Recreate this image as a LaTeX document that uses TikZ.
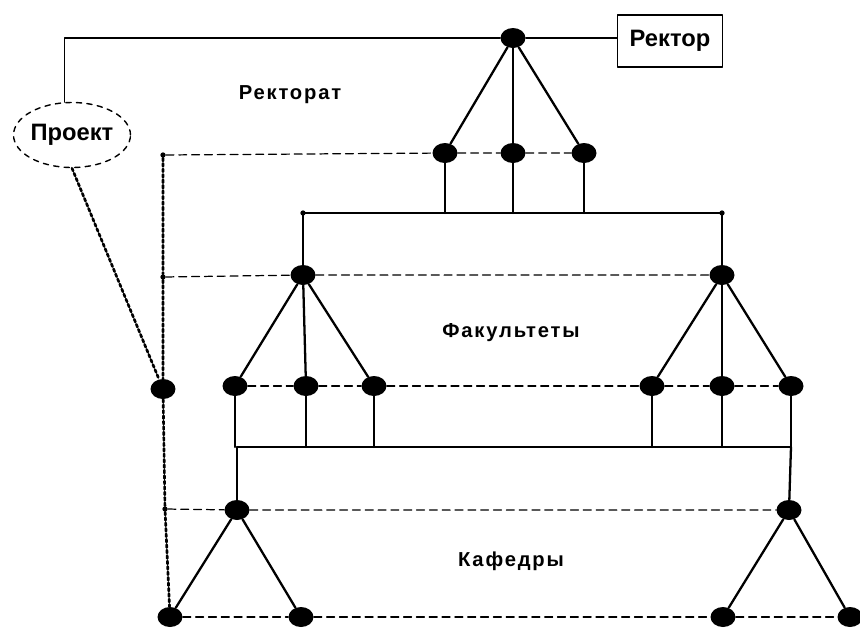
\documentclass[tikz,border=0pt]{standalone}
\usepackage{fontspec}
\newfontfamily\lblfont[LetterSpace=9]{Liberation Sans}
\newfontfamily\boxfont{Liberation Sans}
\usetikzlibrary{shapes.geometric}
\begin{document}
\begin{tikzpicture}[x=0.02cm, y=-0.02cm, line join=round, line cap=round,
    font=\lblfont\bfseries\fontsize{11.5}{13}\selectfont,
    dot/.style={ellipse, fill, inner sep=0pt, minimum width=0.5cm, minimum height=0.4cm},
    pin/.style={circle, fill, inner sep=0pt, minimum size=3pt},
    tree/.style={line width=1.3pt},
    bar/.style={line width=0.8pt},
    hline/.style={line width=0.7pt, dash pattern=on 4.5pt off 2.8pt},
    vline/.style={line width=1.5pt, dash pattern=on 1.7pt off 1.4pt}]
    \useasboundingbox (0,0) rectangle (860,627);
    % Ректорат
    \node[dot] (t) at (513,38) {};
    \node[draw, line width=0.9pt, minimum width=2.1cm, minimum height=1.04cm,
        font=\boxfont\bfseries\fontsize{13.5}{15}\selectfont] (rk) at (670,41) {Ректор};
    \node[ellipse, draw, dashed, line width=0.8pt, inner sep=0pt, minimum width=2.3cm, minimum height=1.3cm,
        font=\boxfont\bfseries\fontsize{13.5}{15}\selectfont] (pr) at (72,135) {Проект};
    \draw[bar] (pr.103) |- (t);
    \draw[bar] (t) -- (t -| rk.west);
    \node (lr) at (290,95) {Ректорат};
    \foreach \x/\n in {445/r1, 513/r2, 584/r3} {
        \node[dot] (\n) at (\x,153) {};
        \draw[tree] (t) -- (\n);
    }
    % Факультеты
    \coordinate (fb1) at (303,213);
    \coordinate (fb2) at (722,213);
    \node[pin] at (fb1) {};
    \node[pin] at (fb2) {};
    \draw[bar] (fb1) -- (fb2);
    \foreach \n in {r1,r2,r3}
        \draw[tree] (\n) -- (\n |- fb1);
    \node[dot] (f1) at (303,275) {};
    \node[dot] (f2) at (722,275) {};
    \draw[tree] (fb1) -- (f1);
    \draw[tree] (fb2) -- (f2);
    \node (lf) at (511,333) {Факультеты};
    \foreach \x/\n in {235/a1, 306/a2, 374/a3} {
        \node[dot] (\n) at (\x,386) {};
        \draw[tree] (f1) -- (\n);
    }
    \foreach \x/\n in {652/b1, 722/b2, 791/b3} {
        \node[dot] (\n) at (\x,386) {};
        \draw[tree] (f2) -- (\n);
    }
    % Кафедры
    \coordinate (kb1) at (237,447);
    \coordinate (kb2) at (791,447);
    \draw[bar] (kb1) -- (kb2);
    \foreach \n in {a1,a2,a3,b1,b2,b3}
        \draw[tree] (\n) -- (\n |- kb1);
    \node[dot] (k1) at (237,510) {};
    \node[dot] (k2) at (789,510) {};
    \draw[tree] (kb1) -- (k1);
    \draw[tree] (kb2) -- (k2);
    \node (lk) at (511,561) {Кафедры};
    \foreach \x/\n in {170/d1, 301/d2, 723/d3, 850/d4}
        \node[dot] (\n) at (\x,617) {};
    \draw[tree] (k1) -- (d1);
    \draw[tree] (k1) -- (d2);
    \draw[tree] (k2) -- (d3);
    \draw[tree] (k2) -- (d4);
    % уровни
    \node[pin] (p1) at (163,155) {};
    \node[pin] (p2) at (163,277) {};
    \node[dot] (pn) at (163,389) {};
    \node[pin] (p3) at (165,509) {};
    \draw[hline] (p1) -- (r1) -- (r2) -- (r3);
    \draw[hline] (p2) -- (f1) -- (f2);
    \draw[hline] (a1) -- (a2) -- (a3) -- (b1) -- (b2) -- (b3);
    \draw[hline] (p3) -- (k1) -- (k2);
    \draw[hline] (d1) -- (d2) -- (d3) -- (d4);
    \draw[vline] (p1) -- (p2) -- (pn) -- (p3) -- (d1);
    \draw[vline] (pr.south) -- (pn);
\end{tikzpicture}
\end{document}
